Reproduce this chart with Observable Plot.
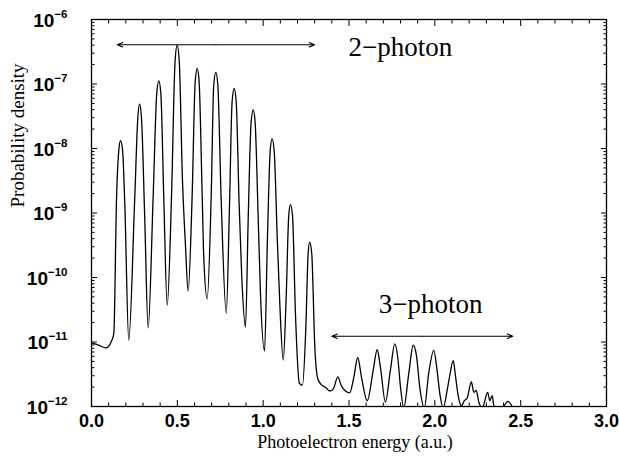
<!DOCTYPE html>
<html><head><meta charset="utf-8">
<script src="https://cdn.jsdelivr.net/npm/d3@7"></script>
<script src="https://cdn.jsdelivr.net/npm/@observablehq/plot@0.6"></script>
<style>html,body{margin:0;padding:0;background:#fff}svg{display:block}</style>
</head><body><div id="chart"></div>
<script>
// Photoelectron energy (a.u.) and log10 of probability density
const energy = [
  0.000,0.041,0.086,0.116,0.130,0.146,0.159,0.169,0.181,0.194,0.217,
  0.252,0.270,0.280,0.291,0.310,0.330,
  0.359,0.380,0.392,0.404,0.421,0.441,
  0.466,0.487,0.499,0.511,0.530,0.547,0.563,
  0.586,0.604,0.616,0.627,0.645,0.654,0.674,
  0.697,0.712,0.724,0.736,0.755,0.785,
  0.804,0.819,0.831,0.843,0.860,0.875,0.897,
  0.913,0.930,0.942,0.953,0.971,0.984,1.008,
  1.025,1.041,1.052,1.064,1.082,1.097,1.117,
  1.134,1.149,1.159,1.171,1.188,1.211,1.229,
  1.248,1.262,1.271,1.283,1.301,1.318,1.338,1.363,1.388,1.408,
  1.435,1.454,1.479,1.504,1.528,1.551,1.573,1.606,
  1.641,1.664,1.683,1.712,1.741,1.767,1.784,1.800,1.819,
  1.848,1.874,1.893,1.912,1.939,1.964,1.994,2.013,2.029,2.048,
  2.075,2.087,2.107,2.120,2.136,2.155,2.172,2.188,2.213,2.227,2.241,2.256,2.276,
  2.308,2.320,2.334,2.343,2.360,2.405,2.425,2.444,2.460,2.480
];
const log10Density = [
  -11.01,-11.05,-11.09,-10.99,-10.87,-8.76,-8.03,-7.88,-8.03,-8.86,-10.97,
  -8.76,-7.52,-7.31,-7.52,-9.07,-10.78,
  -8.76,-7.15,-6.95,-7.15,-8.76,-10.43,
  -8.76,-6.64,-6.40,-6.64,-8.50,-9.48,-10.21,
  -8.76,-6.97,-6.76,-6.97,-8.76,-9.69,-10.33,
  -8.76,-7.02,-6.82,-7.02,-8.76,-10.55,
  -8.86,-7.28,-7.07,-7.28,-8.86,-9.97,-10.77,
  -9.07,-7.59,-7.40,-7.59,-9.07,-10.23,-11.14,
  -9.38,-8.03,-7.85,-8.03,-9.38,-10.41,-11.28,
  -10.31,-9.04,-8.87,-9.04,-10.56,-11.64,-11.67,
  -10.82,-9.63,-9.45,-9.63,-11.08,-11.57,-11.66,-11.70,-11.76,-11.73,
  -11.54,-11.67,-11.76,-11.79,-11.55,-11.24,-11.55,-11.91,
  -11.44,-11.12,-11.39,-11.93,-11.44,-11.03,-11.24,-11.70,-12.02,
  -11.49,-11.05,-11.21,-11.70,-12.02,-11.49,-11.13,-11.44,-11.80,-12.02,
  -11.70,-11.52,-11.29,-11.52,-11.83,-11.99,-11.91,-11.87,-11.62,-11.78,-11.75,-11.93,-12.02,
  -11.78,-11.91,-11.83,-11.98,-12.05,-11.98,-11.92,-11.97,-12.05,-12.10
];

const xMajorTicks = [0, 0.5, 1.0, 1.5, 2.0, 2.5, 3.0];
const xMinorTicks = [0.1,0.2,0.3,0.4,0.6,0.7,0.8,0.9,1.1,1.2,1.3,1.4,1.6,1.7,1.8,1.9,2.1,2.2,2.3,2.4,2.6,2.7,2.8,2.9];
const yDecadeExponents = [-12, -11, -10, -9, -8, -7, -6];
const yMinorMultipliers = [2, 3, 4, 5, 6, 7, 8, 9];

const annotationLabels = ["2\u2212photon", "3\u2212photon"];
const annotationX = [1.497, 1.673];
const annotationY = [3.76e-7, 3.84e-11];
const arrowStartX = [0.15, 1.40];
const arrowEndX = [1.30, 2.454];
const arrowY = [4.06e-7, 1.23e-11];

const xTitle = "Photoelectron energy (a.u.)";
const yTitle = "Probability density";

const points = energy.map((e, i) => ({e, v: Math.pow(10, log10Density[i])}));
const yMajor = yDecadeExponents.map(n => Math.pow(10, n));
const yMinor = [];
for (const n of yDecadeExponents.slice(0, -1)) for (const k of yMinorMultipliers) yMinor.push(k * Math.pow(10, n));

const notes = annotationLabels.map((t, i) => ({t, x: annotationX[i], y: annotationY[i]}));
const arrows = [];
arrowStartX.forEach((a, i) => {
  const m = (a + arrowEndX[i]) / 2;
  arrows.push({x1: m, x2: a, y: arrowY[i]});
  arrows.push({x1: m, x2: arrowEndX[i], y: arrowY[i]});
});

const sans = "Liberation Sans, Arial, Helvetica, sans-serif";
const serif = "Liberation Serif, Times New Roman, serif";

const chart = Plot.plot({
  width: 619, height: 456,
  marginLeft: 91, marginRight: 13, marginTop: 19, marginBottom: 50,
  style: {background: "#fff", color: "#000", fontFamily: sans},
  x: {domain: [0, 3], label: null},
  y: {type: "log", domain: [1e-12, 1e-6], label: null},
  marks: [
    Plot.line(points, {x: "e", y: "v", stroke: "#000", strokeWidth: 1.3, curve: "monotone-x", clip: true}),
    // ticks (inward)
    Plot.axisX(xMajorTicks, {anchor: "bottom", tickSize: -6, fill: "none", label: null}),
    Plot.axisX(xMinorTicks, {anchor: "bottom", tickSize: -3.5, fill: "none", label: null}),
    Plot.axisX(xMajorTicks, {anchor: "top", tickSize: -6, fill: "none", label: null}),
    Plot.axisX(xMinorTicks, {anchor: "top", tickSize: -3.5, fill: "none", label: null}),
    Plot.axisY(yMajor, {anchor: "left", tickSize: -6, fill: "none", label: null}),
    Plot.axisY(yMinor, {anchor: "left", tickSize: -3.5, fill: "none", label: null}),
    Plot.axisY(yMajor, {anchor: "right", tickSize: -6, fill: "none", label: null}),
    Plot.axisY(yMinor, {anchor: "right", tickSize: -3.5, fill: "none", label: null}),
    // tick labels
    Plot.axisX(xMajorTicks, {anchor: "bottom", tickSize: 0, tickPadding: 8, tickFormat: d => d.toFixed(1),
      fontSize: 18, fontWeight: "bold", fontFamily: sans, label: null}),
    Plot.axisY(yMajor, {anchor: "left", tickSize: 0, tickPadding: 24, dy: 1,
      tickFormat: d => "10" + String(Math.round(Math.log10(d))).replace("-", "\u2212"),
      fontSize: 19, fontWeight: "bold", fontFamily: sans, label: null}),
    Plot.frame({stroke: "#000", strokeWidth: 1.3}),
    // annotations
    Plot.arrow(arrows, {x1: "x1", x2: "x2", y1: "y", y2: "y", headLength: 8, headAngle: 46, strokeWidth: 1.1, stroke: "#000"}),
    Plot.text(notes, {x: "x", y: "y", text: "t", textAnchor: "start", fontSize: 27, fontFamily: serif, fill: "#000"}),
    // titles
    Plot.text([xTitle], {text: d => d, frameAnchor: "bottom", dy: 41, dx: 6, fontSize: 18, fontFamily: serif, fill: "#000"}),
    Plot.text([yTitle], {text: d => d, frameAnchor: "left", dx: -73.5, dy: -5.5, rotate: -90, fontSize: 19, fontFamily: serif, fill: "#000"})
  ]
});

// turn "10−6" tick labels into 10 with a superscript exponent
chart.querySelectorAll("text").forEach(t => {
  const s = t.textContent;
  const m = /^10(\u2212\d+)$/.exec(s);
  if (!m) return;
  t.textContent = "";
  const ns = "http://www.w3.org/2000/svg";
  const a = document.createElementNS(ns, "tspan");
  a.textContent = "10";
  const b = document.createElementNS(ns, "tspan");
  b.setAttribute("dy", "-9");
  b.setAttribute("font-size", "11.5");
  b.textContent = m[1];
  t.appendChild(a); t.appendChild(b);
});

document.getElementById("chart").appendChild(chart);
</script>
</body></html>
